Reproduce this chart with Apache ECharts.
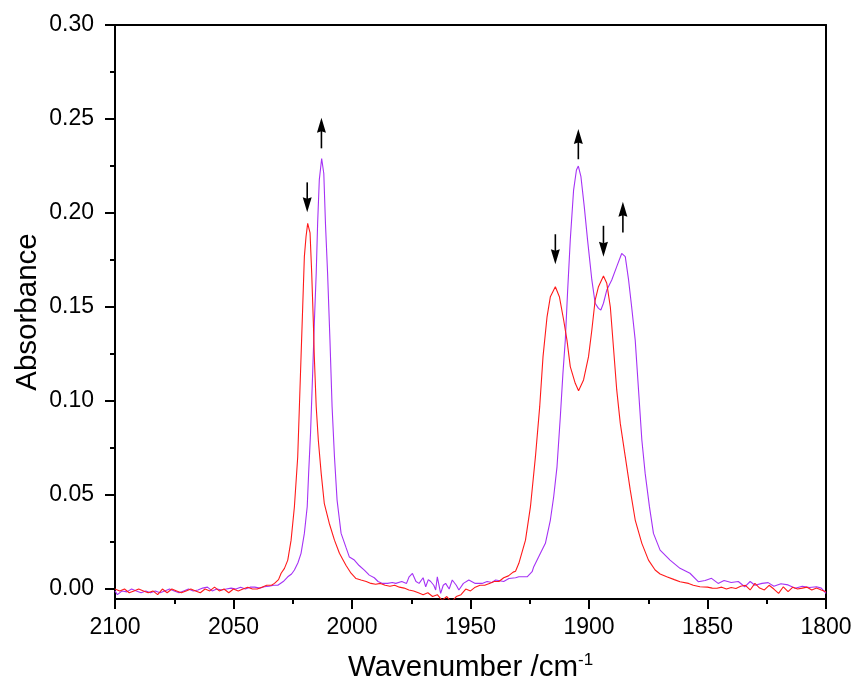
<!DOCTYPE html>
<html>
<head>
<meta charset="utf-8">
<title>IR spectra</title>
<script src="https://cdn.jsdelivr.net/npm/echarts@6/dist/echarts.min.js"></script>
<style>
  html, body { margin: 0; padding: 0; background: #ffffff; }
  #chart { width: 858px; height: 693px; }
</style>
</head>
<body>
<div id="chart"></div>
<script>
// Wavenumber (cm-1) and absorbance for the red spectrum
const redWavenumber = [
  2100, 2098, 2096, 2094, 2092, 2090, 2088, 2086, 2084, 2082, 2080, 2078, 2076, 2074, 2072, 2070,
  2068, 2066, 2064, 2062, 2060, 2058, 2056, 2054, 2052, 2050, 2048, 2046, 2044, 2042, 2040, 2038,
  2036, 2034, 2032.7, 2031, 2029.9, 2028.5, 2027.1, 2025.7, 2024.3, 2022.9, 2022.2, 2021.5, 2020.8,
  2020.1, 2019.4, 2018.7, 2017.7, 2017.0, 2016.3, 2015.9, 2015.1, 2014.2, 2013.0, 2011.7, 2009.6,
  2007.4, 2005.3, 2004, 2002.5, 2000.4, 1998.3, 1996.2, 1994, 1992, 1990, 1988, 1986, 1984, 1982,
  1980, 1978, 1976, 1974, 1972, 1970, 1968, 1966, 1964, 1962, 1960, 1958, 1956, 1954, 1952, 1950,
  1948, 1946, 1944, 1942, 1940, 1938, 1936, 1934, 1932, 1931, 1929.6, 1926.8, 1924.7, 1922.6,
  1920.8, 1919.4, 1917.7, 1916.3, 1914.2, 1912.5, 1910.7, 1909.3, 1907.9, 1905.8, 1904.4, 1902.3,
  1900.2, 1898.8, 1897.4, 1896, 1893.9, 1892.5, 1891, 1889.7, 1888.3, 1886.8, 1884.7, 1882.6,
  1880.5, 1877.7, 1874.9, 1872.1, 1870, 1867.2, 1864, 1861.6, 1858, 1856, 1853.2, 1850, 1848,
  1846, 1844, 1842, 1840, 1838, 1836, 1834, 1832, 1830, 1828, 1826, 1824, 1822, 1820, 1818, 1816,
  1814, 1812, 1810, 1808, 1806, 1804, 1802, 1800
];
const redAbsorbance = [
  0.000, -0.001, 0.000, -0.002, -0.001, 0.000, -0.001, -0.002, -0.001, -0.003, 0.000, -0.002, 0.000, -0.001, -0.002, -0.001,
  0.000, -0.001, -0.002, 0.000, -0.001, 0.001, -0.001, 0.000, -0.002, 0.000, -0.001, 0.000, 0.001, 0.000, 0.000, 0.001,
  0.002, 0.002, 0.003, 0.005, 0.0084, 0.011, 0.0154, 0.026, 0.0438, 0.0704, 0.097, 0.1236, 0.150,
  0.1768, 0.1874, 0.1945, 0.1894, 0.168, 0.1415, 0.1236, 0.097, 0.079, 0.0615, 0.0456, 0.035,
  0.026, 0.019, 0.016, 0.0125, 0.0084, 0.0056, 0.0048, 0.004, 0.003, 0.0025, 0.003, 0.002, 0.0015, 0.002,
  0.001, 0.0005, -0.0005, -0.001, -0.002, -0.003, -0.002, -0.004, -0.003, -0.006, -0.004, -0.007, -0.004, -0.003, 0.000, -0.001,
  0.001, 0.002, 0.002, 0.003, 0.004, 0.004, 0.006, 0.007, 0.009, 0.0095, 0.0137, 0.026, 0.0438, 0.0704,
  0.097, 0.1236, 0.1448, 0.1555, 0.1608, 0.1555, 0.1431, 0.1324, 0.1183, 0.1094, 0.1055, 0.1112,
  0.1236, 0.1378, 0.1537, 0.1608, 0.1665, 0.1626, 0.150, 0.1289, 0.1059, 0.0881, 0.0704, 0.0527,
  0.0367, 0.0243, 0.0154, 0.0101, 0.008, 0.0065, 0.005, 0.0039, 0.003, 0.002, 0.0012, 0.001, 0.0005,
  0.0004, 0.001, 0.000, 0.0008, 0.0003, 0.0015, 0.002, -0.0005, 0.003, 0.0005, -0.0005, 0.002, 0.000, -0.0023, 0.0012, -0.0014,
  0.001, 0.000, 0.0005, 0.001, -0.0005, 0.0005, -0.0005, -0.0014
];

// Wavenumber (cm-1) and absorbance for the purple spectrum
const purpleWavenumber = [
  2100, 2099, 2097, 2095, 2093, 2091, 2089, 2087, 2085, 2083, 2081, 2079, 2077, 2075, 2073, 2071,
  2069, 2067, 2065, 2063, 2061, 2059, 2057, 2055, 2053, 2051, 2049, 2047, 2045, 2043, 2041, 2039,
  2037, 2035, 2033, 2031.3, 2029, 2027.1, 2025.5, 2024.3, 2022.8, 2021.5, 2020.1, 2018.9, 2018.3,
  2017.5, 2016.6, 2015.9, 2015.1, 2014.5, 2013.8, 2012.8, 2011.9, 2011.2, 2010.3, 2009.3, 2008.4,
  2007.4, 2006.3, 2004.6, 2002.5, 2001.1, 1999, 1997, 1994.8, 1992.7, 1990.6, 1989, 1987.1, 1985,
  1983, 1981.5, 1979, 1977, 1975.9, 1974.5, 1973, 1971.7, 1970, 1968.9, 1967.8, 1966.8, 1965.5,
  1964.7, 1964, 1962.6, 1961.5, 1960.5, 1959, 1957.7, 1956, 1954.9, 1953, 1950.7, 1948, 1945.1,
  1943, 1941, 1939.4, 1936, 1933.8, 1931, 1929.6, 1926.1, 1924, 1923.3, 1920.5, 1918.4, 1916.3,
  1914.9, 1913.5, 1912.1, 1911, 1910, 1909, 1907.9, 1906.5, 1905.3, 1904.5, 1903.4, 1902, 1900.6,
  1898.8, 1897.4, 1896, 1895, 1893.9, 1892.5, 1890.4, 1888.3, 1886.2, 1884.7, 1883.3, 1882,
  1880.5, 1879.1, 1877.7, 1876.3, 1874.5, 1872.8, 1870, 1865.8, 1861.6, 1857.4, 1853.9, 1851,
  1848.3, 1845.5, 1843, 1840, 1837, 1834.3, 1832, 1830, 1827, 1824.4, 1822, 1819, 1816, 1813,
  1810, 1807, 1804, 1802, 1800
];
const purpleAbsorbance = [
  -0.001, -0.003, -0.001, -0.0015, 0.000, -0.001, -0.002, -0.001, -0.002, -0.001, -0.002, -0.001, 0.000, -0.001, -0.002, -0.001,
  0.000, -0.001, -0.0005, 0.0005, 0.001, -0.001, 0.000, -0.0005, 0.000, 0.0005, 0.000, 0.001, 0.000, 0.001, 0.001, 0.0005,
  0.0012, 0.0015, 0.002, 0.002, 0.004, 0.0065, 0.008, 0.0101, 0.014, 0.019, 0.0296, 0.0438, 0.0615,
  0.0828, 0.1147, 0.1413, 0.168, 0.1945, 0.2176, 0.229, 0.221, 0.1945, 0.168, 0.1324, 0.097,
  0.0704, 0.0473, 0.0296, 0.022, 0.017, 0.0154, 0.0125, 0.0101, 0.0074, 0.006, 0.004, 0.003, 0.003,
  0.0035, 0.003, 0.004, 0.003, 0.0065, 0.0083, 0.004, 0.003, 0.006, 0.0012, 0.005, 0.004, 0.002,
  -0.0005, 0.0065, -0.0023, 0.002, 0.003, 0.000, 0.0048, 0.002, -0.0005, 0.003, 0.0048, 0.003, 0.003,
  0.004, 0.0035, 0.0048, 0.004, 0.0056, 0.006, 0.0065, 0.0065, 0.0092, 0.0119, 0.019, 0.0243, 0.0367,
  0.0491, 0.065, 0.0916, 0.1147, 0.1324, 0.159, 0.1856, 0.2122, 0.2229, 0.225, 0.2193, 0.2034, 0.1856,
  0.1644, 0.152, 0.1493, 0.1484, 0.152, 0.159, 0.1644, 0.1715, 0.1785, 0.1768, 0.1644, 0.150,
  0.1324, 0.1059, 0.0793, 0.0615, 0.0438, 0.0296, 0.0207, 0.0154, 0.011, 0.0084, 0.0039, 0.0045,
  0.0057, 0.003, 0.0045, 0.0035, 0.004, 0.0012, 0.004, 0.002, 0.003, 0.0034, 0.0015, 0.0028, 0.0022, 0.0004,
  0.0015, 0.0008, 0.0012, 0.0005, -0.0023
];

// Change markers: [wavenumber, arrow tail absorbance, arrow tip absorbance]
const arrowMarks = [
  [2018.9, 0.2163, 0.2004],
  [2012.9, 0.2344, 0.2507],
  [1914.2, 0.1887, 0.1727],
  [1904.5, 0.2286, 0.2447],
  [1893.9, 0.1932, 0.1768],
  [1885.7, 0.1897, 0.2060]
];

// Axis ticks
const xTickInterval = 50;
const yMajorTicks = [0, 0.05, 0.10, 0.15, 0.20, 0.25, 0.30];
const yMinorTicks = [0.025, 0.075, 0.125, 0.175, 0.225, 0.275];

const zip = (xs, ys) => xs.map((x, i) => [x, ys[i]]);

const FONT = 'Arial, "Liberation Sans", sans-serif';
const BLACK = '#000000';
const axisLineStyle = { color: BLACK, width: 2 };

const chart = echarts.init(document.getElementById('chart'), null, { renderer: 'canvas' });

chart.setOption({
  animation: false,
  backgroundColor: '#ffffff',
  grid: { left: 115, right: 32, top: 25, bottom: 94, containLabel: false },
  xAxis: [
    {
      type: 'value',
      min: 1800,
      max: 2100,
      interval: xTickInterval,
      inverse: true,
      position: 'bottom',
      axisLine: { show: true, onZero: false, lineStyle: axisLineStyle },
      axisTick: { show: true, inside: false, length: 10, lineStyle: { color: BLACK, width: 2 } },
      minorTick: { show: true, splitNumber: 2, length: 5, lineStyle: { color: BLACK, width: 2 } },
      axisLabel: { color: BLACK, fontSize: 23, fontFamily: FONT, margin: 17, formatter: (v) => String(v) },
      splitLine: { show: false },
      name: 'Wavenumber /cm{sup|-1}',
      nameLocation: 'middle',
      nameGap: 53,
      nameMoveOverlap: false,
      nameTextStyle: {
        color: BLACK, fontSize: 29.5, fontFamily: FONT,
        rich: { sup: { fontSize: 17, color: BLACK, fontFamily: FONT, verticalAlign: 'top', padding: [0, 0, 15, 0] } }
      }
    },
    {
      type: 'value',
      min: 1800,
      max: 2100,
      inverse: true,
      position: 'top',
      axisLine: { show: true, onZero: false, lineStyle: axisLineStyle },
      axisTick: { show: false },
      axisLabel: { show: false },
      splitLine: { show: false }
    }
  ],
  yAxis: [
    {
      type: 'value',
      min: -0.0053,
      max: 0.30,
      position: 'left',
      offset: 0,
      axisLine: { show: true, onZero: false, lineStyle: axisLineStyle },
      axisTick: { show: true, length: 10, customValues: yMajorTicks, lineStyle: { color: BLACK, width: 2 } },
      axisLabel: {
        color: BLACK, fontSize: 23, fontFamily: FONT, margin: 21,
        customValues: yMajorTicks,
        formatter: (v) => v.toFixed(2)
      },
      splitLine: { show: false },
      name: 'Absorbance',
      nameLocation: 'middle',
      nameGap: 72,
      nameMoveOverlap: false,
      nameTextStyle: { color: BLACK, fontSize: 29.5, fontFamily: FONT }
    },
    {
      type: 'value',
      min: -0.0053,
      max: 0.30,
      position: 'left',
      offset: 0,
      axisLine: { show: false },
      axisTick: { show: true, length: 5, customValues: yMinorTicks, lineStyle: { color: BLACK, width: 2 } },
      axisLabel: { show: false },
      splitLine: { show: false }
    },
    {
      type: 'value',
      min: -0.0053,
      max: 0.30,
      position: 'right',
      offset: 0,
      axisLine: { show: true, onZero: false, lineStyle: axisLineStyle },
      axisTick: { show: false },
      axisLabel: { show: false },
      splitLine: { show: false }
    }
  ],
  series: [
    {
      name: 'red',
      type: 'line',
      xAxisIndex: 0,
      yAxisIndex: 0,
      data: zip(redWavenumber, redAbsorbance),
      showSymbol: false,
      symbol: 'none',
      clip: true,
      lineStyle: { color: '#ff1a1a', width: 1.1 },
      z: 3
    },
    {
      name: 'purple',
      type: 'line',
      xAxisIndex: 0,
      yAxisIndex: 0,
      data: zip(purpleWavenumber, purpleAbsorbance),
      showSymbol: false,
      symbol: 'none',
      clip: true,
      lineStyle: { color: '#a532f5', width: 1.1 },
      z: 2
    },
    {
      name: 'arrows',
      type: 'custom',
      xAxisIndex: 0,
      yAxisIndex: 0,
      data: arrowMarks,
      z: 5,
      renderItem: (params, api) => {
        const tail = api.coord([api.value(0), api.value(1)]);
        const tip = api.coord([api.value(0), api.value(2)]);
        const dir = tip[1] > tail[1] ? 1 : -1;
        const headLen = 15;
        const halfW = 4.5;
        const baseY = tip[1] - dir * headLen;
        return {
          type: 'group',
          children: [
            {
              type: 'line',
              shape: { x1: tail[0], y1: tail[1], x2: tip[0], y2: baseY + dir * 2 },
              style: { stroke: BLACK, lineWidth: 1.6 }
            },
            {
              type: 'polygon',
              shape: {
                points: [
                  [tip[0], tip[1]],
                  [tip[0] - halfW, baseY],
                  [tip[0], baseY + dir * 1.5],
                  [tip[0] + halfW, baseY]
                ]
              },
              style: { fill: BLACK }
            }
          ]
        };
      }
    }
  ]
});
</script>
</body>
</html>
